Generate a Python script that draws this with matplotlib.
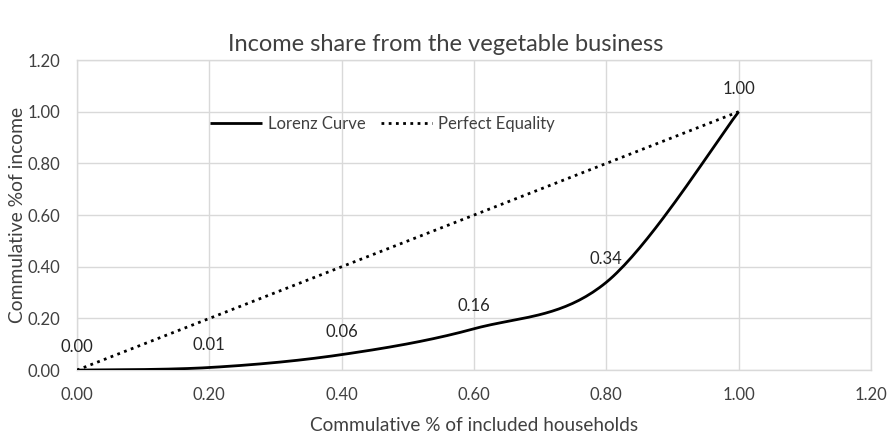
import numpy as np
import matplotlib
matplotlib.use("Agg")
import matplotlib.pyplot as plt

plt.rcParams['font.family'] = ['Lato', 'DejaVu Sans']

households = [0.0, 0.2, 0.4, 0.6, 0.8, 1.0]
income = [0.0, 0.01, 0.06, 0.16, 0.34, 1.00]
equality_x = [0.0, 1.0]
equality_y = [0.0, 1.0]
ticks = [0.0, 0.2, 0.4, 0.6, 0.8, 1.0, 1.2]


def smooth(xs, ys, n=40):
    # Excel-like smoothing: cubic Bezier segments with Catmull-Rom control points
    P = np.column_stack([xs, ys]).astype(float)
    P = np.vstack([P[0], P, P[-1]])
    out = []
    t = np.linspace(0, 1, n)[:, None]
    for i in range(1, len(P) - 2):
        p0, p1, p2, p3 = P[i - 1], P[i], P[i + 1], P[i + 2]
        c1 = p1 + (p2 - p0) / 6.0
        c2 = p2 - (p3 - p1) / 6.0
        seg = ((1 - t) ** 3) * p1 + 3 * ((1 - t) ** 2) * t * c1 + 3 * (1 - t) * t ** 2 * c2 + t ** 3 * p2
        out.append(seg if i == 1 else seg[1:])
    out = np.vstack(out)
    return out[:, 0], out[:, 1]


fig = plt.figure(figsize=(8.91, 4.38), dpi=100)
ax = fig.add_axes([0.0864, 0.155, 0.8912, 0.708])

sx, sy = smooth(households, income)
ax.plot(sx, sy, color='black', lw=2.0, label='Lorenz Curve', solid_capstyle='butt', zorder=3)
ax.plot(equality_x, equality_y, color='black', lw=2.0, linestyle=(0, (1, 1.6)),
        label='Perfect Equality', zorder=3)

for x, y in zip(households, income):
    ax.annotate(f"{y:.2f}", (x, y), xytext=(0, 16.5), textcoords='offset points',
                ha='center', va='center', fontsize=12, color='#262626')

ax.set_xlim(0, 1.2)
ax.set_ylim(0, 1.2)
ax.set_xticks(ticks)
ax.set_yticks(ticks)
ax.set_xticklabels([f"{t:.2f}" for t in ticks])
ax.set_yticklabels([f"{t:.2f}" for t in ticks])
ax.tick_params(axis='x', length=0, labelsize=12, labelcolor='#404040', pad=12)
ax.tick_params(axis='y', length=0, labelsize=12, labelcolor='#404040', pad=12)
ax.grid(True, color='#d9d9d9', lw=1.0)
ax.set_axisbelow(True)
for s in ax.spines.values():
    s.set_color('#d9d9d9')
    s.set_linewidth(1.0)

ax.set_xlabel('Commulative % of included households', fontsize=13.7, color='#404040', labelpad=10)
ax.set_ylabel('Commulative %of income', fontsize=13.9, color='#404040', labelpad=1)
fig.suptitle('Income share from the vegetable business', fontsize=17, color='#404040', y=0.922)

ax.legend(loc='center', bbox_to_anchor=(0.385, 0.794), ncol=2, frameon=False,
          fontsize=12, handlelength=3.1, columnspacing=0.9, handletextpad=0.36,
          labelcolor='#404040')

fig.savefig('out.png', dpi=100)
